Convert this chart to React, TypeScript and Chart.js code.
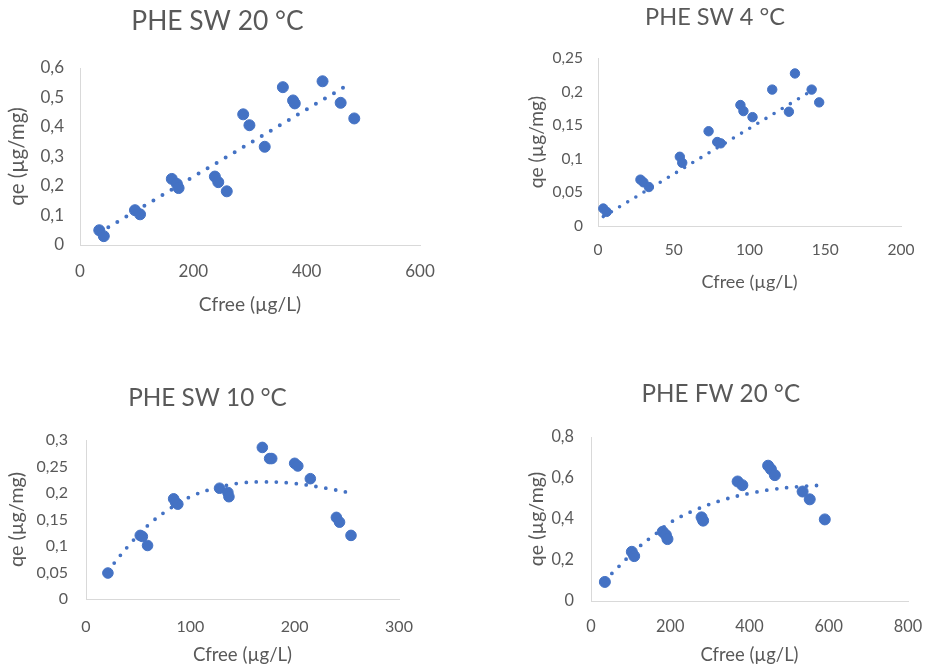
import { useEffect, useRef } from 'react';
import { Chart, registerables } from 'chart.js';

Chart.register(...registerables);

// ---------- Data ----------
// Panel 1: PHE SW 20 °C
const SW20_CFREE = [34, 42, 97, 106, 162, 171, 174, 238, 244, 259, 288, 299, 326, 358, 376, 379, 428, 460, 484];
const SW20_QE = [0.05, 0.03, 0.118, 0.104, 0.224, 0.207, 0.193, 0.232, 0.213, 0.182, 0.443, 0.406, 0.333, 0.535, 0.49, 0.48, 0.555, 0.482, 0.429];
const SW20_TREND_X = [34, 472];
const SW20_TREND_Y = [0.042, 0.542];
const SW20_X_TICKS = [0, 200, 400, 600];
const SW20_Y_TICKS = [0, 0.1, 0.2, 0.3, 0.4, 0.5, 0.6];

// Panel 2: PHE SW 4 °C
const SW4_CFREE = [3.5, 5.7, 28, 30, 33.6, 54, 55.6, 73, 78.7, 81, 94, 96, 102, 115, 130, 126, 141, 146];
const SW4_QE = [0.026, 0.021, 0.069, 0.065, 0.058, 0.103, 0.094, 0.141, 0.125, 0.123, 0.18, 0.171, 0.162, 0.203, 0.227, 0.17, 0.203, 0.184];
const SW4_TREND_X = [3.5, 146];
const SW4_TREND_Y = [0.014, 0.208];
const SW4_X_TICKS = [0, 50, 100, 150, 200];
const SW4_Y_TICKS = [0, 0.05, 0.1, 0.15, 0.2, 0.25];

// Panel 3: PHE SW 10 °C
const SW10_CFREE = [21, 52, 54, 59, 84, 86, 88, 128, 136, 137, 169, 176, 178, 200, 203, 215, 240, 243, 254];
const SW10_QE = [0.049, 0.12, 0.118, 0.101, 0.189, 0.182, 0.179, 0.209, 0.201, 0.193, 0.286, 0.265, 0.265, 0.256, 0.251, 0.227, 0.154, 0.145, 0.12];
const SW10_TREND_X = [21, 41, 60, 80, 100, 120, 145, 170, 200, 230, 254];
const SW10_TREND_Y = [0.053, 0.101, 0.14, 0.17, 0.193, 0.207, 0.218, 0.221, 0.218, 0.209, 0.2];
const SW10_X_TICKS = [0, 100, 200, 300];
const SW10_Y_TICKS = [0, 0.05, 0.1, 0.15, 0.2, 0.25, 0.3];

// Panel 4: PHE FW 20 °C
const FW20_CFREE = [35, 103, 109, 181, 189, 193, 279, 283, 370, 382, 447, 454, 464, 534, 552, 590];
const FW20_QE = [0.093, 0.24, 0.219, 0.338, 0.322, 0.302, 0.408, 0.392, 0.583, 0.565, 0.66, 0.643, 0.614, 0.534, 0.496, 0.398];
const FW20_TREND_X = [35, 70, 120, 165, 200, 270, 340, 400, 460, 520, 590];
const FW20_TREND_Y = [0.1, 0.168, 0.262, 0.33, 0.383, 0.45, 0.497, 0.525, 0.545, 0.557, 0.566];
const FW20_X_TICKS = [0, 200, 400, 600, 800];
const FW20_Y_TICKS = [0, 0.2, 0.4, 0.6, 0.8];

const X_LABEL = 'Cfree (µg/L)';
const Y_LABEL = 'qe (µg/mg)';

// ---------- Styles ----------
const BLUE = '#4472C4';
const TEXT = '#595959';
const AXIS = '#D9D9D9';
const FONT = 'Lato';
const LH = 1.2;

type Geo = {
  // canvas box
  cl: number; ct: number; cb: number; padR: number;
  // plot area in page pixels
  plotL: number; plotT: number; plotR: number; plotB: number;
  // text anchors in page pixels
  titleCX: number; titleCY: number; yTitleCX: number; xTickCY: number; xTitleCY: number; yTickRight: number;
  // sizes
  titleSize: number; tickSize: number; axisSize: number; yAxisSize: number;
  markerR: number; dotW: number; dotGap: number;
};

type Panel = {
  title: string;
  xs: number[];
  ys: number[];
  tx: number[];
  ty: number[];
  xTicks: number[];
  yTicks: number[];
  curve: boolean;
  g: Geo;
};

const fmt = (v: number) => String(v).replace('.', ',');

function ScatterPanel({ p }: { p: Panel }) {
  const ref = useRef<HTMLCanvasElement | null>(null);
  const g = p.g;
  const width = g.plotR + g.padR - g.cl;
  const height = g.cb - g.ct;
  useEffect(() => {
    if (!ref.current) return;
    const titleLH = g.titleSize * LH;
    const axisLH = g.axisSize * LH;
    const yAxisLH = g.yAxisSize * LH;
    const tickLH = g.tickSize * LH;
    const padL = 2 * g.titleCX - g.plotR - g.cl;
    const yAxisW = g.plotL - g.cl - padL;
    const yTitlePad = g.yTitleCX - (g.cl + padL) - yAxisLH / 2;
    const titleTop = g.titleCY - g.ct - titleLH / 2;
    const titleBottom = g.plotT - g.titleCY - titleLH / 2;
    const xAxisH = g.cb - g.plotB;
    const xTitlePad = g.cb - g.xTitleCY - axisLH / 2;
    const xTickPad = g.xTickCY - g.plotB - tickLH / 2;
    const yTickPad = g.plotL - g.yTickRight;

    const pts = p.xs.map((x, i) => ({ x, y: p.ys[i] }));
    const trend = p.tx.map((x, i) => ({ x, y: p.ty[i] }));
    const chart = new Chart(ref.current, {
      type: 'scatter',
      data: {
        datasets: [
          {
            data: trend,
            showLine: true,
            pointRadius: 0,
            borderColor: BLUE,
            borderWidth: g.dotW,
            borderDash: [0, g.dotGap],
            borderCapStyle: 'round',
            borderJoinStyle: 'round',
            tension: p.curve ? 0.4 : 0,
            fill: false,
          } as any,
          {
            data: pts,
            showLine: false,
            pointRadius: g.markerR,
            pointBorderWidth: 1,
            pointBackgroundColor: BLUE,
            pointBorderColor: BLUE,
          } as any,
        ],
      },
      options: {
        animation: false,
        responsive: false,
        layout: { padding: { left: padL, right: g.padR, top: 0, bottom: 0 } },
        plugins: {
          legend: { display: false },
          tooltip: { enabled: false },
          title: {
            display: true,
            text: p.title,
            color: TEXT,
            font: { family: FONT, size: g.titleSize, weight: 'normal', lineHeight: LH },
            padding: { top: titleTop, bottom: titleBottom },
          },
        },
        scales: {
          x: {
            type: 'linear',
            min: p.xTicks[0],
            max: p.xTicks[p.xTicks.length - 1],
            afterBuildTicks: (s: any) => {
              s.ticks = p.xTicks.map((v) => ({ value: v }));
            },
            afterFit: (s: any) => {
              s.height = xAxisH;
              s.paddingLeft = 0;
              s.paddingRight = 0;
            },
            grid: { display: false, drawTicks: false, tickLength: 0 },
            border: { display: true, color: AXIS, width: 1 },
            ticks: {
              autoSkip: false,
              maxRotation: 0,
              padding: xTickPad,
              color: TEXT,
              font: { family: FONT, size: g.tickSize, lineHeight: LH },
              callback: (v: any) => fmt(Number(v)),
            },
            title: {
              display: true,
              text: X_LABEL,
              color: TEXT,
              font: { family: FONT, size: g.axisSize, lineHeight: LH },
              padding: { top: 0, bottom: xTitlePad },
            },
          },
          y: {
            type: 'linear',
            min: p.yTicks[0],
            max: p.yTicks[p.yTicks.length - 1],
            afterBuildTicks: (s: any) => {
              s.ticks = p.yTicks.map((v) => ({ value: v }));
            },
            afterFit: (s: any) => {
              s.width = yAxisW;
              s.paddingTop = 0;
              s.paddingBottom = 0;
            },
            grid: { display: false, drawTicks: false, tickLength: 0 },
            border: { display: true, color: AXIS, width: 1 },
            ticks: {
              autoSkip: false,
              padding: yTickPad,
              color: TEXT,
              font: { family: FONT, size: g.tickSize, lineHeight: LH },
              callback: (v: any) => fmt(Number(v)),
            },
            title: {
              display: true,
              text: Y_LABEL,
              color: TEXT,
              font: { family: FONT, size: g.yAxisSize, lineHeight: LH },
              padding: { top: yTitlePad, bottom: 0 },
            },
          },
        },
      } as any,
    });
    return () => chart.destroy();
  }, [p]);
  return (
    <canvas
      ref={ref}
      width={width}
      height={height}
      style={{ position: 'absolute', left: g.cl, top: g.ct, width, height }}
    />
  );
}

const PANELS: Panel[] = [
  {
    title: 'PHE SW 20 °C', xs: SW20_CFREE, ys: SW20_QE, tx: SW20_TREND_X, ty: SW20_TREND_Y,
    xTicks: SW20_X_TICKS, yTicks: SW20_Y_TICKS, curve: false,
    g: {
      cl: 0, ct: 0, cb: 320, padR: 20,
      plotL: 80, plotT: 68, plotR: 420, plotB: 245,
      titleCX: 217.5, titleCY: 21, yTitleCX: 17.5, xTickCY: 272, xTitleCY: 305, yTickRight: 64,
      titleSize: 26.4, tickSize: 17, axisSize: 19.2, yAxisSize: 20.5,
      markerR: 5.5, dotW: 4, dotGap: 10.5,
    },
  },
  {
    title: 'PHE SW 4 °C', xs: SW4_CFREE, ys: SW4_QE, tx: SW4_TREND_X, ty: SW4_TREND_Y,
    xTicks: SW4_X_TICKS, yTicks: SW4_Y_TICKS, curve: false,
    g: {
      cl: 513, ct: 0, cb: 300, padR: 16,
      plotL: 598, plotT: 58, plotR: 901, plotB: 226,
      titleCX: 715, titleCY: 17.5, yTitleCX: 537, xTickCY: 250, xTitleCY: 281.7, yTickRight: 583,
      titleSize: 23.5, tickSize: 15.5, axisSize: 18, yAxisSize: 19.2,
      markerR: 4.7, dotW: 3.6, dotGap: 9.5,
    },
  },
  {
    title: 'PHE SW 10 °C', xs: SW10_CFREE, ys: SW10_QE, tx: SW10_TREND_X, ty: SW10_TREND_Y,
    xTicks: SW10_X_TICKS, yTicks: SW10_Y_TICKS, curve: true,
    g: {
      cl: 0, ct: 370, cb: 667, padR: 20,
      plotL: 86, plotT: 440, plotR: 399, plotB: 599,
      titleCX: 207.5, titleCY: 398, yTitleCX: 17, xTickCY: 626.7, xTitleCY: 655, yTickRight: 68,
      titleSize: 24.3, tickSize: 16, axisSize: 18.6, yAxisSize: 19.8,
      markerR: 5.3, dotW: 3.8, dotGap: 10,
    },
  },
  {
    title: 'PHE FW 20 °C', xs: FW20_CFREE, ys: FW20_QE, tx: FW20_TREND_X, ty: FW20_TREND_Y,
    xTicks: FW20_X_TICKS, yTicks: FW20_Y_TICKS, curve: true,
    g: {
      cl: 516, ct: 370, cb: 667, padR: 16,
      plotL: 591, plotT: 437, plotR: 908, plotB: 601,
      titleCX: 720.8, titleCY: 394, yTitleCX: 537, xTickCY: 626.7, xTitleCY: 655, yTickRight: 574,
      titleSize: 24.2, tickSize: 16.3, axisSize: 18.4, yAxisSize: 19.6,
      markerR: 5.5, dotW: 3.8, dotGap: 10,
    },
  },
];

export default function App() {
  return (
    <div
      style={{
        position: 'absolute',
        left: 0,
        top: 0,
        width: 927,
        height: 667,
        background: '#ffffff',
        overflow: 'hidden',
      }}
    >
      {PANELS.map((p) => (
        <ScatterPanel key={p.title} p={p} />
      ))}
    </div>
  );
}
